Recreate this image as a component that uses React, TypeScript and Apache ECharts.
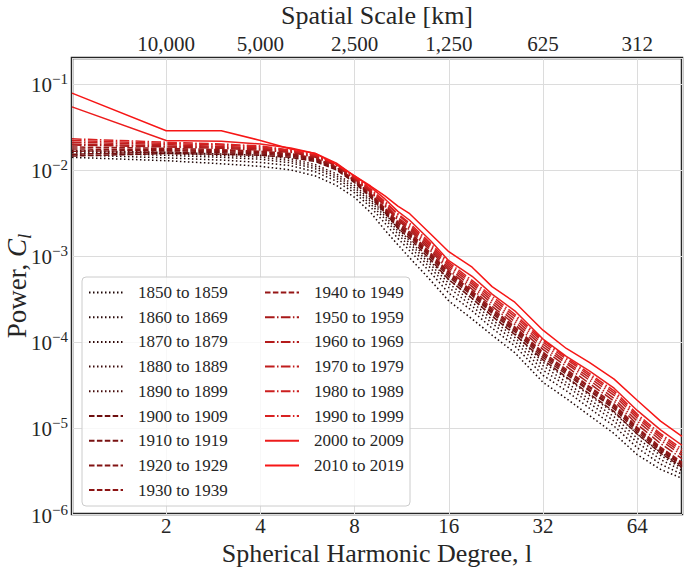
import React, { useEffect, useRef } from "react";
import * as echarts from "echarts";

// Spherical harmonic degrees at which values were read
const degrees = [1, 2, 3, 4, 5, 6, 7, 8, 9, 10, 11, 12, 14, 16, 19, 22, 26, 32, 38, 45, 54, 64, 76, 89];

const decades = [
  "1850 to 1859", "1860 to 1869", "1870 to 1879", "1880 to 1889", "1890 to 1899",
  "1900 to 1909", "1910 to 1919", "1920 to 1929", "1930 to 1939", "1940 to 1949",
  "1950 to 1959", "1960 to 1969", "1970 to 1979", "1980 to 1989", "1990 to 1999",
  "2000 to 2009", "2010 to 2019",
];

const p1850 = [0.014, 0.0128, 0.0118, 0.011, 0.01, 0.0085, 0.0066, 0.0048, 0.0032, 0.002, 0.00135, 0.00095, 0.00052, 0.0003, 1.85e-4, 1.2e-4, 7.5e-5, 3.4e-5, 2.2e-5, 1.4e-5, 8.6e-6, 4.9e-6, 3.3e-6, 2.6e-6];
const p1860 = [0.015, 0.0138, 0.013, 0.0122, 0.0112, 0.0095, 0.0074, 0.0054, 0.0037, 0.0024, 0.0016, 0.00115, 0.00064, 0.00037, 2.3e-4, 1.45e-4, 9.0e-5, 4.1e-5, 2.7e-5, 1.7e-5, 1.05e-5, 5.9e-6, 3.8e-6, 2.9e-6];
const p1870 = [0.0158, 0.0148, 0.014, 0.0133, 0.0121, 0.0103, 0.008, 0.0058, 0.004, 0.0027, 0.0018, 0.00128, 0.00072, 0.00043, 2.6e-4, 1.65e-4, 1.02e-4, 4.7e-5, 3.1e-5, 1.95e-5, 1.2e-5, 6.8e-6, 4.3e-6, 3.2e-6];
const p1880 = [0.0163, 0.0155, 0.0147, 0.0141, 0.0128, 0.0109, 0.0085, 0.0062, 0.0043, 0.0029, 0.00195, 0.0014, 0.00079, 0.00048, 2.9e-4, 1.82e-4, 1.13e-4, 5.3e-5, 3.4e-5, 2.15e-5, 1.35e-5, 7.6e-6, 4.8e-6, 3.4e-6];
const p1890 = [0.0168, 0.016, 0.0153, 0.0148, 0.0135, 0.0115, 0.009, 0.0066, 0.0045, 0.0031, 0.0021, 0.0015, 0.00085, 0.00053, 3.2e-4, 2.0e-4, 1.25e-4, 5.8e-5, 3.8e-5, 2.4e-5, 1.5e-5, 8.5e-6, 5.2e-6, 3.6e-6];
const p1900 = [0.0145, 0.0155, 0.0152, 0.0148, 0.014, 0.0125, 0.01, 0.0071, 0.0048, 0.0032, 0.0021, 0.0016, 0.0009, 0.00053, 3.2e-4, 2.0e-4, 1.22e-4, 6.2e-5, 3.9e-5, 2.5e-5, 1.55e-5, 8.5e-6, 5.1e-6, 3.5e-6];
const p1910 = [0.0152, 0.0162, 0.0158, 0.0153, 0.0145, 0.0129, 0.0103, 0.0073, 0.005, 0.0033, 0.0022, 0.0017, 0.00096, 0.00057, 3.45e-4, 2.15e-4, 1.32e-4, 6.6e-5, 4.2e-5, 2.7e-5, 1.67e-5, 9.0e-6, 5.4e-6, 3.7e-6];
const p1920 = [0.0165, 0.0168, 0.0163, 0.0158, 0.0149, 0.0132, 0.0105, 0.0074, 0.0051, 0.0034, 0.0023, 0.00175, 0.001, 0.0006, 3.6e-4, 2.25e-4, 1.38e-4, 7.0e-5, 4.4e-5, 2.8e-5, 1.75e-5, 9.5e-6, 5.6e-6, 3.8e-6];
const p1930 = [0.0175, 0.0172, 0.0168, 0.0162, 0.0152, 0.0135, 0.0107, 0.0075, 0.0052, 0.0035, 0.0024, 0.00182, 0.00104, 0.00063, 3.75e-4, 2.35e-4, 1.45e-4, 7.3e-5, 4.6e-5, 2.95e-5, 1.82e-5, 9.9e-6, 5.8e-6, 3.9e-6];
const p1940 = [0.0185, 0.0178, 0.0172, 0.0165, 0.0155, 0.0137, 0.0108, 0.0076, 0.0053, 0.0036, 0.0025, 0.0019, 0.00108, 0.00065, 3.9e-4, 2.45e-4, 1.5e-4, 7.6e-5, 4.8e-5, 3.05e-5, 1.9e-5, 1.02e-5, 6.0e-6, 4.0e-6];
const p1950 = [0.0195, 0.0185, 0.0178, 0.017, 0.016, 0.014, 0.0112, 0.0078, 0.0055, 0.0038, 0.0026, 0.002, 0.00115, 0.00068, 4.1e-4, 2.6e-4, 1.6e-4, 8.2e-5, 5.2e-5, 3.3e-5, 2.05e-5, 1.1e-5, 6.6e-6, 4.4e-6];
const p1960 = [0.02, 0.019, 0.0183, 0.0175, 0.0163, 0.0143, 0.0114, 0.0079, 0.0056, 0.0039, 0.0027, 0.0021, 0.00121, 0.00072, 4.4e-4, 2.8e-4, 1.72e-4, 8.8e-5, 5.6e-5, 3.6e-5, 2.2e-5, 1.2e-5, 7.2e-6, 4.8e-6];
const p1970 = [0.021, 0.0197, 0.0188, 0.018, 0.0166, 0.0146, 0.0115, 0.008, 0.0057, 0.004, 0.0028, 0.0022, 0.00128, 0.00076, 4.7e-4, 3.0e-4, 1.85e-4, 9.4e-5, 5.9e-5, 3.85e-5, 2.4e-5, 1.3e-5, 7.7e-6, 5.1e-6];
const p1980 = [0.022, 0.0203, 0.0195, 0.0185, 0.0168, 0.0148, 0.0117, 0.0082, 0.0059, 0.0042, 0.003, 0.0023, 0.00134, 0.0008, 4.95e-4, 3.2e-4, 1.98e-4, 1.0e-4, 6.3e-5, 4.1e-5, 2.55e-5, 1.38e-5, 8.2e-6, 5.4e-6];
const p1990 = [0.023, 0.021, 0.02, 0.019, 0.017, 0.015, 0.0118, 0.0083, 0.006, 0.0043, 0.0031, 0.0024, 0.0014, 0.00084, 5.2e-4, 3.4e-4, 2.1e-4, 1.05e-4, 6.6e-5, 4.3e-5, 2.7e-5, 1.45e-5, 8.6e-6, 5.7e-6];
const p2000 = [0.054, 0.022, 0.0215, 0.02, 0.018, 0.0155, 0.012, 0.0085, 0.0063, 0.0046, 0.0033, 0.0026, 0.0015, 8.8e-4, 5.8e-4, 3.6e-4, 2.3e-4, 1.08e-4, 6.8e-5, 4.6e-5, 2.9e-5, 1.6e-5, 9.5e-6, 6.3e-6];
const p2010 = [0.078, 0.0285, 0.0285, 0.022, 0.0175, 0.0155, 0.0115, 0.0085, 0.0065, 0.005, 0.0038, 0.0031, 0.0018, 0.00112, 7.4e-4, 4.4e-4, 2.9e-4, 1.37e-4, 8.4e-5, 5.8e-5, 3.7e-5, 2.1e-5, 1.2e-5, 8.0e-6];

const powers = [p1850, p1860, p1870, p1880, p1890, p1900, p1910, p1920, p1930, p1940, p1950, p1960, p1970, p1980, p1990, p2000, p2010];

// Top axis: spatial scale labels at degrees 2, 4, 8, 16, 32, 64
const spatialScaleLabels = ["10,000", "5,000", "2,500", "1,250", "625", "312"];
const bottomTickLabels = ["2", "4", "8", "16", "32", "64"];

// Styles
const colors = [
  "#1c0505", "#260606", "#300808", "#3a0909", "#440a0a",
  "#6e0f0f", "#781111", "#821313", "#8c1414", "#961616",
  "#a81919", "#b41b1b", "#c01d1d", "#cc1f1f", "#d82121",
  "#ec1c1c", "#f71616",
];
const DOT = [1.5, 2.5];
const DASH = [5.5, 2.4];
const DASHDOT = [9.6, 2.4, 1.5, 2.4];
const dashFor = (i: number) => (i < 5 ? DOT : i < 10 ? DASH : i < 15 ? DASHDOT : "solid");

const FONT = "Liberation Serif";
const TXT = "#262626";

export default function App() {
  const ref = useRef<HTMLDivElement>(null);
  useEffect(() => {
    if (!ref.current) return;
    const chart = echarts.init(ref.current, undefined, { renderer: "svg" });
    const exp2 = (v: number) => Math.round(Math.log2(v));
    const isPow2 = (v: number) => Math.abs(Math.log2(v) - exp2(v)) < 1e-6;
    const series = decades.map((name, i) => ({
      name,
      type: "line",
      xAxisIndex: 0,
      yAxisIndex: 0,
      data: degrees.map((l, k) => [l, powers[i][k]]),
      symbol: "none",
      showSymbol: false,
      silent: true,
      color: colors[i],
      lineStyle: { width: 1.5, color: colors[i], type: dashFor(i) as any },
      z: 2,
    }));
    const legendCommon = {
      orient: "vertical", top: 284, padding: 0,
      itemWidth: 34, itemHeight: 12, itemGap: 7.7,
      textStyle: { fontFamily: FONT, fontSize: 17, color: TXT, padding: [0, 0, 0, 10] },
      itemStyle: { opacity: 0 },
      selectedMode: false,
    };
    chart.setOption({
      animation: false,
      backgroundColor: "#ffffff",
      textStyle: { fontFamily: FONT, color: TXT },
      grid: {
        left: 72, right: 3, top: 58, bottom: 53,
        outerBoundsMode: "none",
        containLabel: false,
        show: true, borderColor: "#262626", borderWidth: 2.5, backgroundColor: "transparent",
      },
      xAxis: [
        {
          type: "log", logBase: 2, min: 1, max: 89, position: "bottom",
          axisLine: { show: false }, axisTick: { show: false },
          splitLine: { show: true, lineStyle: { color: "#dcdcdc", width: 1 } },
          axisLabel: {
            fontFamily: FONT, fontSize: 21, color: TXT, margin: 1,
            formatter: (v: number) => {
              if (!isPow2(v)) return "";
              const e = exp2(v);
              return e >= 1 && e <= 6 ? bottomTickLabels[e - 1] : "";
            },
          },
          name: "Spherical Harmonic Degree, l",
          nameLocation: "middle", nameGap: 26, nameMoveOverlap: false,
          nameTextStyle: { fontFamily: FONT, fontSize: 26, color: TXT },
        },
        {
          type: "log", logBase: 2, min: 1, max: 89, position: "top",
          axisLine: { show: false }, axisTick: { show: false },
          splitLine: { show: false },
          axisLabel: {
            fontFamily: FONT, fontSize: 21, color: TXT, margin: 4,
            formatter: (v: number) => {
              if (!isPow2(v)) return "";
              const e = exp2(v);
              return e >= 1 && e <= 6 ? spatialScaleLabels[e - 1] : "";
            },
          },
          name: "Spatial Scale [km]",
          nameLocation: "middle", nameGap: 30, nameMoveOverlap: false,
          nameTextStyle: { fontFamily: FONT, fontSize: 26, color: TXT },
        },
      ],
      yAxis: {
        type: "log", logBase: 10, min: 1e-6, max: 0.2,
        axisLine: { show: false }, axisTick: { show: false },
        splitLine: { show: true, lineStyle: { color: "#dcdcdc", width: 1 } },
        axisLabel: {
          fontFamily: FONT, fontSize: 21, color: TXT, margin: 4,
          formatter: (v: number) => {
            const e = Math.round(Math.log10(v));
            if (Math.abs(Math.log10(v) - e) > 1e-6) return "";
            return "{b|10}{s|\u2212" + Math.abs(e) + "}";
          },
          rich: {
            b: { fontFamily: FONT, fontSize: 21, color: TXT, verticalAlign: "bottom" },
            s: { fontFamily: FONT, fontSize: 15, color: TXT, verticalAlign: "bottom", padding: [0, 0, 9, 0] },
          },
        },
        name: "Power, {i|C}{sub|l}",
        nameLocation: "middle", nameGap: 42, nameRotate: 90, nameMoveOverlap: false,
        nameTextStyle: {
          fontFamily: FONT, fontSize: 27, color: TXT,
          rich: {
            i: { fontFamily: FONT, fontSize: 27, fontStyle: "italic", color: TXT, verticalAlign: "bottom" },
            sub: { fontFamily: FONT, fontSize: 19, fontStyle: "italic", color: TXT, verticalAlign: "bottom", padding: [0, 0, -4, 0] },
          },
        },
      },
      legend: [
        { ...legendCommon, data: decades.slice(0, 9), left: 88 },
        { ...legendCommon, data: decades.slice(9), left: 264 },
      ],
      graphic: [
        {
          type: "rect", z: 3, silent: true,
          shape: { x: 82, y: 277, width: 328, height: 229, r: 4 },
          style: { fill: "rgba(255,255,255,0.8)", stroke: "#cccccc", lineWidth: 1 },
        },
      ],
      series,
    });
    return () => chart.dispose();
  }, []);
  return <div ref={ref} style={{ width: 685, height: 567, position: "absolute", left: 0, top: 0 }} />;
}
